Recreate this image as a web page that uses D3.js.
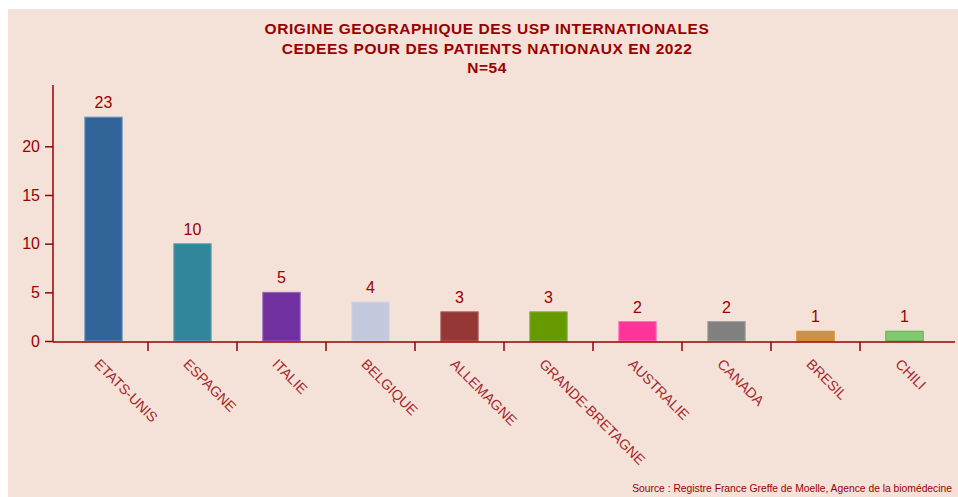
<!DOCTYPE html>
<html><head><meta charset="utf-8">
<script src="https://cdn.jsdelivr.net/npm/d3@7"></script>
<style>
body{margin:0;background:#fff;}
svg{display:block;}
text{font-family:"Liberation Sans",Arial,sans-serif;}
</style></head>
<body><svg id="c" width="958" height="497"></svg>
<script>
const categories = ["ETATS-UNIS","ESPAGNE","ITALIE","BELGIQUE","ALLEMAGNE","GRANDE-BRETAGNE","AUSTRALIE","CANADA","BRESIL","CHILI"];
const values = [23,10,5,4,3,3,2,2,1,1];
const fills = ["#31659a","#31869b","#7030a0","#c3c8dc","#953735","#669a00","#ff3399","#808080","#cc9149","#80c870"];
const strokes = ["#6f95bd","#6aa9b9","#9467ba","#d2d7e6","#ae6563","#88b04a","#ff70b5","#a0a0a0","#e08a1e","#56b344"];
const yTicks = [0,5,10,15,20];
const titleLines = ["ORIGINE GEOGRAPHIQUE DES USP INTERNATIONALES","CEDEES POUR DES PATIENTS NATIONAUX EN 2022","N=54"];
const source = "Source : Registre France Greffe de Moelle, Agence de la biomédecine";

const dark = "#990000";
const svg = d3.select("#c");
svg.append("rect").attr("x",8).attr("y",9).attr("width",950).attr("height",488).attr("fill","#f4e1d8");

const x = d3.scaleBand().domain(categories).range([59,949]).padding(0);
const y = d3.scaleLinear().domain([0,26.3]).range([341,85]);

// title
svg.append("g").selectAll("text").data(titleLines).join("text")
  .attr("x",487).attr("y",(d,i)=>34+i*19.5).attr("text-anchor","middle")
  .attr("font-size",15.5).attr("font-weight","bold").attr("fill",dark)
  .attr("letter-spacing","0.55px")
  .text(d=>d);

// bars
const bw = x.bandwidth()*0.42;
svg.append("g").selectAll("rect").data(categories).join("rect")
  .attr("x",d=>x(d)+x.bandwidth()/2-bw/2)
  .attr("y",(d,i)=>y(values[i]))
  .attr("width",bw)
  .attr("height",(d,i)=>y(0)-y(values[i]))
  .attr("fill",(d,i)=>fills[i])
  .attr("stroke",(d,i)=>strokes[i]).attr("stroke-width",1);

// value labels
svg.append("g").selectAll("text").data(categories).join("text")
  .attr("x",d=>x(d)+x.bandwidth()/2)
  .attr("y",(d,i)=>y(values[i])-9)
  .attr("text-anchor","middle").attr("font-size",16).attr("fill",dark)
  .text((d,i)=>values[i]);

// y axis
const ya = svg.append("g").attr("transform","translate(53,0)")
  .call(d3.axisLeft(y).tickValues(yTicks).tickSize(8).tickPadding(5));
ya.select(".domain").remove();
ya.append("line").attr("x1",0).attr("x2",0).attr("y1",85).attr("y2",342).attr("stroke",dark).attr("stroke-width",1.5);
ya.selectAll(".tick line").attr("stroke",dark).attr("stroke-width",1.5);
ya.selectAll(".tick text").attr("fill",dark).attr("font-size",16).attr("font-family","'Liberation Sans',Arial,sans-serif");

// x axis
const xa = svg.append("g").attr("transform","translate(0,342)")
  .call(d3.axisBottom(x).tickSize(0).tickPadding(0));
xa.select(".domain").remove();
xa.append("line").attr("x1",53).attr("x2",955).attr("y1",0).attr("y2",0).attr("stroke",dark).attr("stroke-width",1.5);
xa.selectAll(".tick").filter((d,i)=>i>0).append("line")
  .attr("x1",-x.bandwidth()/2).attr("x2",-x.bandwidth()/2).attr("y1",0).attr("y2",9)
  .attr("stroke",dark).attr("stroke-width",1.5);
xa.selectAll(".tick text")
  .attr("fill","#a3272a").attr("font-size",14.2).attr("font-family","'Liberation Sans',Arial,sans-serif")
  .attr("text-anchor","start").attr("dy",null).attr("y",0)
  .attr("transform","translate(-10,23) rotate(45)");

// source
svg.append("text").attr("x",952).attr("y",492).attr("text-anchor","end")
  .attr("font-size",10.3).attr("fill",dark).text(source);
</script></body></html>
